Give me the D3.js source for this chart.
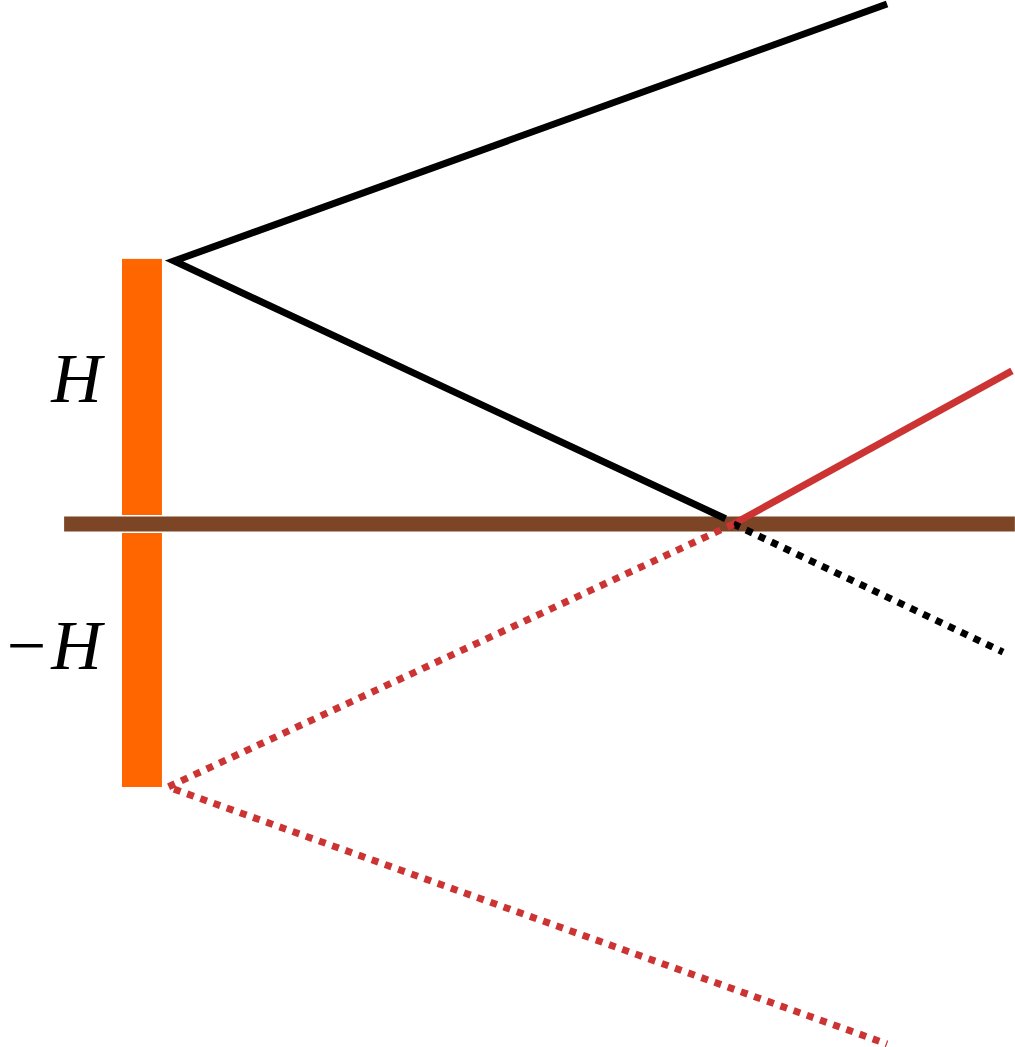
<!DOCTYPE html>
<meta charset="utf-8">
<script src="https://d3js.org/d3.v7.min.js"></script>
<style>
  body { margin: 0; background: #fff; }
</style>
<div id="my_dataviz"></div>
<script>

// source height is H = 1, mirror image at -H, ground at y = 0
var groundX = [-0.395, 3.22];
var sourceBar = [-0.175, -0.023];   // x extent of the orange bar
var barLevels = [1.008, -1.0];      // top and bottom of the bar
var directRay = [[2.734, 1.977], [0.023, 1.0], [2.12, 0.02]];
var reflectedRay = [[2.15, 0.0], [3.209, 0.582]];
var transmittedRay = [[2.15, 0.0], [3.175, -0.487]];
var imageRay = [[2.15, 0.0], [0.0, -1.0], [2.734, -1.977]];
var labels = [{sign: "", text: "H", y: 0.465}, {sign: "\u2212", text: "H", y: -0.55}];

var width = 1015, height = 1047;

var svg = d3.select("#my_dataviz")
  .append("svg")
    .attr("width", width)
    .attr("height", height);

// same scale on both axes
var x = d3.scaleLinear().domain([0, 1]).range([168, 168 + 263]);
var y = d3.scaleLinear().domain([0, 1]).range([524, 524 - 263]);

var line = d3.line()
  .x(function(d) { return x(d[0]) })
  .y(function(d) { return y(d[1]) });

// orange bar for source and image
svg.append("rect")
  .attr("x", x(sourceBar[0]))
  .attr("y", y(barLevels[0]))
  .attr("width", x(sourceBar[1]) - x(sourceBar[0]))
  .attr("height", y(barLevels[1]) - y(barLevels[0]))
  .attr("fill", "#ff6600");

// ground
svg.append("path")
  .datum([[groundX[0], 0], [groundX[1], 0]])
  .attr("d", line)
  .attr("stroke", "#fff")
  .attr("stroke-width", 18)
  .attr("fill", "none");
svg.append("path")
  .datum([[groundX[0], 0], [groundX[1], 0]])
  .attr("d", line)
  .attr("stroke", "#7b4526")
  .attr("stroke-width", 15)
  .attr("fill", "none");

// rays
svg.append("path")
  .datum(directRay)
  .attr("d", line)
  .attr("stroke", "#000")
  .attr("stroke-width", 7)
  .attr("stroke-linejoin", "miter")
  .attr("fill", "none");

svg.append("path")
  .datum(reflectedRay)
  .attr("d", line)
  .attr("stroke", "#cc3333")
  .attr("stroke-width", 7)
  .attr("fill", "none");

svg.append("path")
  .datum(transmittedRay)
  .attr("d", line)
  .attr("stroke", "#000")
  .attr("stroke-width", 7)
  .attr("stroke-dasharray", "7,7")
  .attr("fill", "none");

svg.append("path")
  .datum(imageRay)
  .attr("d", line)
  .attr("stroke", "#cc3333")
  .attr("stroke-width", 7)
  .attr("stroke-dasharray", "7,7")
  .attr("fill", "none");

// labels
var lbl = svg.selectAll(".lbl")
  .data(labels)
  .enter()
  .append("text")
    .attr("class", "lbl")
    .attr("x", x(-0.252))
    .attr("y", function(d) { return y(d.y) })
    .attr("text-anchor", "end")
    .style("font-family", "'Liberation Serif', serif")
    .style("font-size", "70px");
lbl.append("tspan")
    .text(function(d) { return d.sign });
lbl.append("tspan")
    .attr("dx", function(d) { return d.sign ? 5 : 0 })
    .style("font-style", "italic")
    .text(function(d) { return d.text });

</script>
